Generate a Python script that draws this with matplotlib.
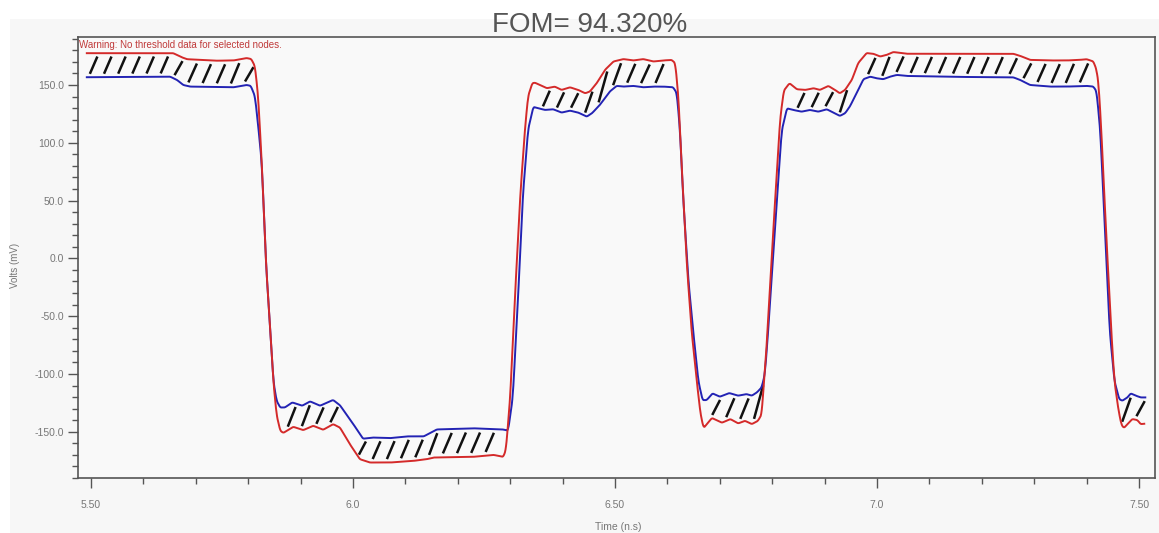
import numpy as np
from matplotlib import pyplot as plt
from matplotlib.collections import LineCollection
from matplotlib.patches import Rectangle
from matplotlib.ticker import MultipleLocator, FuncFormatter

plt.rcParams["font.family"] = ["Liberation Sans", "DejaVu Sans"]

# Courbe rouge (ns, mV)
red_t = [5.492, 5.657, 5.673, 5.683, 5.708, 5.740, 5.772, 5.797, 5.806, 5.813,
         5.819, 5.826, 5.834, 5.842, 5.848, 5.854, 5.861, 5.867, 5.886, 5.905,
         5.924, 5.943, 5.962, 5.975, 5.994, 6.013, 6.032, 6.071, 6.115, 6.141,
         6.153, 6.229, 6.268, 6.287, 6.292, 6.300, 6.309, 6.319, 6.328, 6.334,
         6.342, 6.347, 6.370, 6.385, 6.398, 6.414, 6.430, 6.443, 6.452, 6.465,
         6.481, 6.497, 6.516, 6.535, 6.554, 6.573, 6.592, 6.608, 6.615, 6.621,
         6.627, 6.637, 6.646, 6.656, 6.663, 6.669, 6.685, 6.704, 6.720, 6.735,
         6.748, 6.761, 6.773, 6.780, 6.783, 6.788, 6.802, 6.815, 6.822, 6.833,
         6.847, 6.863, 6.879, 6.891, 6.907, 6.920, 6.929, 6.939, 6.952, 6.964,
         6.980, 6.993, 7.006, 7.019, 7.031, 7.057, 7.107, 7.180, 7.260, 7.273,
         7.292, 7.330, 7.362, 7.387, 7.400, 7.413, 7.419, 7.423, 7.428, 7.437,
         7.447, 7.453, 7.460, 7.466, 7.471, 7.478, 7.487, 7.497, 7.503, 7.511]
red_v = [177.5, 177.5, 174.0, 172.3, 171.7, 171.0, 171.2, 173.3, 172.4, 166.0,
         140.0, 82.0, -4.6, -62.0, -106.0, -135.0, -149.0, -151.0, -145.7, -148.6,
         -144.8, -148.3, -143.4, -146.3, -160.7, -173.7, -176.6, -176.6, -175.2, -173.7,
         -172.3, -171.7, -170.0, -171.7, -165.0, -120.0, -34.0, 53.0, 111.0, 140.0,
         151.5, 152.0, 147.2, 148.6, 145.7, 148.0, 145.7, 142.8, 144.3, 151.5,
         163.1, 170.3, 172.4, 171.2, 172.4, 170.3, 171.2, 171.7, 168.8, 139.9,
         82.0, -4.6, -62.0, -106.0, -134.0, -146.8, -138.1, -142.2, -139.0, -142.8,
         -140.5, -143.4, -140.5, -134.7, -114.5, -85.6, 24.0, 120.0, 145.0, 151.5,
         146.3, 145.7, 147.2, 145.7, 149.2, 145.7, 142.8, 145.7, 154.4, 168.9,
         177.6, 177.0, 174.6, 176.1, 178.5, 177.0, 177.0, 177.0, 177.0, 175.2,
         171.7, 171.2, 171.2, 171.7, 172.3, 170.3, 163.0, 150.0, 111.0, 24.3,
         -62.4, -105.8, -129.0, -143.4, -146.8, -143.4, -139.0, -139.9, -143.4, -143.0]

# Courbe bleue (ns, mV)
blue_t = [5.492, 5.651, 5.664, 5.676, 5.689, 5.772, 5.797, 5.805, 5.813, 5.819,
          5.826, 5.834, 5.842, 5.848, 5.854, 5.861, 5.870, 5.884, 5.903, 5.918,
          5.937, 5.962, 5.975, 6.000, 6.019, 6.038, 6.071, 6.103, 6.135, 6.160,
          6.229, 6.286, 6.296, 6.305, 6.315, 6.324, 6.334, 6.344, 6.353, 6.366,
          6.382, 6.398, 6.414, 6.430, 6.446, 6.456, 6.471, 6.490, 6.503, 6.516,
          6.535, 6.554, 6.573, 6.592, 6.611, 6.618, 6.624, 6.630, 6.640, 6.649,
          6.659, 6.667, 6.675, 6.686, 6.700, 6.718, 6.735, 6.751, 6.761, 6.771,
          6.780, 6.786, 6.791, 6.805, 6.818, 6.828, 6.840, 6.856, 6.872, 6.888,
          6.904, 6.917, 6.929, 6.939, 6.948, 6.961, 6.974, 6.987, 6.999, 7.012,
          7.025, 7.038, 7.057, 7.150, 7.260, 7.273, 7.292, 7.330, 7.362, 7.400,
          7.413, 7.419, 7.426, 7.435, 7.444, 7.453, 7.462, 7.468, 7.478, 7.484,
          7.494, 7.503, 7.513]
blue_v = [156.7, 157.2, 154.4, 150.0, 148.6, 148.0, 150.0, 149.2, 140.0, 115.0,
          82.0, -4.6, -62.0, -106.0, -123.0, -129.0, -129.0, -124.6, -127.5, -123.7,
          -127.5, -122.5, -127.0, -143.0, -156.0, -155.0, -155.5, -154.0, -154.0, -148.0,
          -147.0, -148.0, -149.0, -120.0, -34.0, 53.0, 111.0, 131.0, 130.0, 128.4,
          129.0, 126.1, 127.8, 126.1, 122.6, 125.5, 132.7, 144.3, 149.2, 148.6,
          149.2, 148.0, 148.6, 148.6, 148.0, 142.8, 111.0, 53.0, -19.0, -62.0,
          -106.0, -122.6, -122.6, -116.8, -119.7, -116.5, -118.8, -117.4, -118.8, -115.9,
          -111.5, -100.0, -71.0, 24.0, 110.0, 129.8, 128.4, 126.9, 128.4, 126.9,
          129.0, 126.1, 123.2, 125.5, 131.2, 142.8, 155.0, 157.2, 155.8, 155.0,
          157.2, 158.7, 157.8, 157.0, 156.6, 154.4, 150.0, 148.6, 148.6, 149.2,
          148.6, 144.3, 111.0, 24.3, -62.4, -105.8, -121.7, -123.2, -120.3, -116.8,
          -118.8, -120.3, -120.3]

TITLE = "FOM= 94.320%"
WARNING = "Warning: No threshold data for selected nodes."

W, H = 1159, 533
PX_PER_NS = 524.0
PX_PER_MV = 1.1567


def smooth_curve(t, v, step=0.001, win=5):
    # rééchantillonnage fin + moyenne glissante pour arrondir les coins
    tt = np.arange(t[0], t[-1], step)
    vv = np.interp(tt, t, v)
    k = np.ones(win) / win
    pad = win // 2
    vs = np.convolve(np.pad(vv, pad, mode="edge"), k, mode="valid")
    return tt, vs


fig = plt.figure(figsize=(W / 100, H / 100), dpi=100)
fig.patches.append(Rectangle((10 / W, 0), 1, (H - 19) / H, transform=fig.transFigure,
                             facecolor="#f7f7f7", edgecolor="none", zorder=-10))

ax = fig.add_axes([78 / W, 55 / H, (1155 - 78) / W, (478 - 37) / H])
ax.set_facecolor("#f9f9f9")

rt, rv = smooth_curve(red_t, red_v)
bt, bv = smooth_curve(blue_t, blue_v)


def band(x):
    r = np.interp(x, rt, rv)
    b = np.interp(x, bt, bv)
    return min(r, b), max(r, b)


def slope(x, t, v, h=0.004):
    return (np.interp(x + h, t, v) - np.interp(x - h, t, v)) / (2 * h)


# hachures entre les deux courbes
t0 = max(rt[0], bt[0])
t1 = min(rt[-1], bt[-1])
segs = []
for xc in np.arange(5.505, t1, 0.027):
    if xc < t0:
        continue
    if max(abs(slope(xc, rt, rv)), abs(slope(xc, bt, bv))) > 1800:
        continue
    lo, hi = band(xc)
    gap_px = (hi - lo) * PX_PER_MV
    if gap_px < 9:
        continue
    w_px = 0.72 * gap_px / 2.3
    dx = w_px / PX_PER_NS / 2
    lo_l, hi_l = band(xc - dx)
    lo_r, hi_r = band(xc + dx)
    if min(hi_l - lo_l, hi_r - lo_r) * PX_PER_MV < 9:
        continue
    m = 0.14 * (hi - lo)
    y0 = lo_l + m
    y1 = hi_r - m
    if (y1 - y0) * PX_PER_MV < 7 or (y1 - y0) > 1.2 * (hi - lo):
        continue
    segs.append([(xc - dx, y0), (xc + dx, y1)])
ax.add_collection(LineCollection(segs, colors="#111111", linewidths=1.8, zorder=2))

ax.plot(bt, bv, color="#2323b4", lw=1.4, zorder=3)
ax.plot(rt, rv, color="#d42a2a", lw=1.4, zorder=4)

ax.set_xlim(5.4752, 7.5305)
ax.set_ylim(-190, 191.5)

ax.xaxis.set_major_locator(MultipleLocator(0.5))
ax.xaxis.set_minor_locator(MultipleLocator(0.1))
ax.yaxis.set_major_locator(MultipleLocator(50))
ax.yaxis.set_minor_locator(MultipleLocator(10))
ax.xaxis.set_major_formatter(FuncFormatter(
    lambda v, p: f"{v:.1f}" if abs(v - round(v)) < 1e-6 else f"{v:.2f}"))
ax.yaxis.set_major_formatter(FuncFormatter(lambda v, p: f"{v:.1f}"))

ax.tick_params(axis="both", which="major", length=7, width=1, color="#555555",
               labelsize=7.5, labelcolor="#777777")
ax.tick_params(axis="both", which="minor", length=4, width=1, color="#555555")
ax.tick_params(axis="x", which="major", pad=9)
ax.tick_params(axis="y", which="major", pad=3)

for s in ax.spines.values():
    s.set_color("#555555")
    s.set_linewidth(1.2)

ax.text(0.001, 1 - (45 - 37) / 441, WARNING, transform=ax.transAxes, ha="left",
        va="center", fontsize=7, color="#c03a3a")

fig.text(590 / W, 1 - 32 / H, TITLE, ha="center", va="baseline", fontsize=20,
         color="#555555")
fig.text(15 / W, 1 - 265 / H, "Volts (mV)", rotation=90, ha="center", va="center",
         fontsize=7, color="#777777")
fig.text(618 / W, 1 - 527 / H, "Time (n.s)", ha="center", va="center",
         fontsize=7.5, color="#777777")

fig.savefig("out.png", dpi=100)
